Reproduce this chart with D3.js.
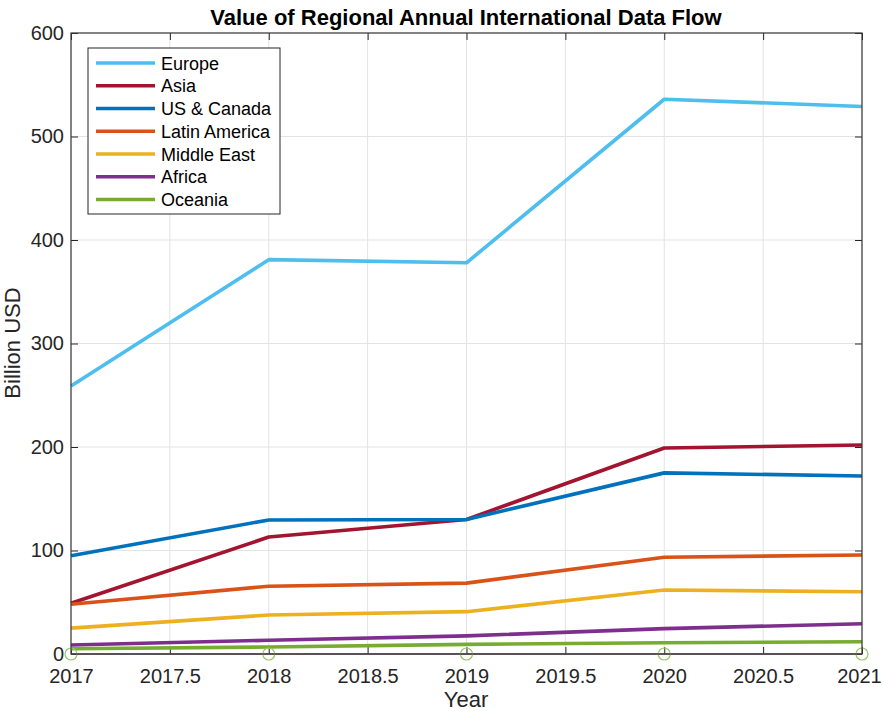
<!DOCTYPE html>
<html><head><meta charset="utf-8">
<script src="https://cdn.jsdelivr.net/npm/d3@7"></script>
<style>body{margin:0;background:#fff;} svg{display:block;font-family:"Liberation Sans",Arial,Helvetica,sans-serif;}</style>
</head><body>
<svg id="chart" width="883" height="711"></svg>
<script>
const years = [2017, 2018, 2019, 2020, 2021];
const seriesNames = ["Europe", "Asia", "US & Canada", "Latin America", "Middle East", "Africa", "Oceania"];
const europe = [259, 381, 378, 536, 529];
const asia = [49, 113, 130, 199, 202];
const usCanada = [95, 129.5, 130, 175, 172];
const latinAmerica = [48, 65.5, 68.5, 93.5, 95.7];
const middleEast = [25, 37.7, 40.9, 61.8, 60.2];
const africa = [8.7, 13.3, 17.5, 24.5, 29.3];
const oceania = [5, 6.8, 9.3, 10.9, 11.9];
const zeroSeries = [0, 0, 0, 0, 0];
const colors = ["#4DBEEE", "#A2142F", "#0072BD", "#D95319", "#EDB120", "#7E2F8E", "#77AC30"];
const xTicks = [2017, 2017.5, 2018, 2018.5, 2019, 2019.5, 2020, 2020.5, 2021];
const yTicks = [0, 100, 200, 300, 400, 500, 600];
const allSeries = [europe, asia, usCanada, latinAmerica, middleEast, africa, oceania];

const L = 71, R = 862, T = 33, B = 654;
const svg = d3.select("#chart");
const x = d3.scaleLinear().domain([2017, 2021]).range([L, R]);
const y = d3.scaleLinear().domain([0, 600]).range([B, T]);
const axisColor = "#262626";

// grid
const g = svg.append("g");
g.selectAll(".vg").data(xTicks).join("line")
  .attr("x1", d => x(d)).attr("x2", d => x(d)).attr("y1", T).attr("y2", B)
  .attr("stroke", "#e3e3e3").attr("stroke-width", 1);
g.selectAll(".hg").data(yTicks).join("line")
  .attr("x1", L).attr("x2", R).attr("y1", d => y(d)).attr("y2", d => y(d))
  .attr("stroke", "#e3e3e3").attr("stroke-width", 1);

// axes
const xAxisB = d3.axisBottom(x).tickValues(xTicks).tickSize(-7).tickPadding(15).tickFormat(d => String(d));
const xAxisT = d3.axisTop(x).tickValues(xTicks).tickSize(-7).tickFormat("");
const yAxisL = d3.axisLeft(y).tickValues(yTicks).tickSize(-7).tickPadding(7).tickFormat(d => String(d));
const yAxisR = d3.axisRight(y).tickValues(yTicks).tickSize(-7).tickFormat("");
function styleAxis(sel) {
  sel.select(".domain").remove();
  sel.selectAll(".tick line").attr("stroke", axisColor);
  sel.selectAll(".tick text").attr("fill", axisColor).attr("font-size", 20)
    .attr("font-family", "'Liberation Sans',Arial,sans-serif");
}
const xb = svg.append("g").attr("transform", `translate(0,${B})`).call(xAxisB).call(styleAxis);
xb.selectAll(".tick text").filter(d => d === 2021).attr("dx", -3);
svg.append("g").attr("transform", `translate(0,${T})`).call(xAxisT).call(styleAxis);
svg.append("g").attr("transform", `translate(${L},0)`).call(yAxisL).call(styleAxis);
svg.append("g").attr("transform", `translate(${R},0)`).call(yAxisR).call(styleAxis);

// lines
const line = d3.line().x((d, i) => x(years[i])).y(d => y(d));
svg.append("path").datum(zeroSeries).attr("d", line).attr("fill", "none")
  .attr("stroke", "#6b4a5e").attr("stroke-width", 1.5);
allSeries.forEach((s, i) => {
  svg.append("path").datum(s).attr("d", line).attr("fill", "none")
    .attr("stroke", colors[i]).attr("stroke-width", 3.6).attr("stroke-linejoin", "round");
});
svg.append("g").selectAll("circle").data(zeroSeries).join("circle")
  .attr("cx", (d, i) => x(years[i])).attr("cy", d => y(d)).attr("r", 6)
  .attr("fill", "none").attr("stroke", "#9cc66a").attr("stroke-width", 1.2);

// box
svg.append("rect").attr("x", L).attr("y", T).attr("width", R - L).attr("height", B - T)
  .attr("fill", "none").attr("stroke", "#3a3a3a").attr("stroke-width", 1.2);

// legend
const lg = svg.append("g");
lg.append("rect").attr("x", 88).attr("y", 48).attr("width", 192).attr("height", 166)
  .attr("fill", "#fff").attr("stroke", axisColor).attr("stroke-width", 1);
seriesNames.forEach((n, i) => {
  const yy = 63 + i * 22.75;
  lg.append("line").attr("x1", 96).attr("x2", 155).attr("y1", yy).attr("y2", yy)
    .attr("stroke", colors[i]).attr("stroke-width", 3.6);
  lg.append("text").attr("x", 161).attr("y", yy + 6.5).attr("font-size", 18).attr("fill", "#000").text(n);
});

// title and labels
svg.append("text").attr("x", 466).attr("y", 25).attr("text-anchor", "middle")
  .attr("font-size", 22).attr("font-weight", "bold").attr("fill", "#000")
  .text("Value of Regional Annual International Data Flow");
svg.append("text").attr("x", 466).attr("y", 707).attr("text-anchor", "middle")
  .attr("font-size", 22).attr("fill", axisColor).text("Year");
svg.append("text").attr("transform", "translate(20,343) rotate(-90)").attr("text-anchor", "middle")
  .attr("font-size", 22).attr("fill", axisColor).text("Billion USD");
</script>
</body></html>
